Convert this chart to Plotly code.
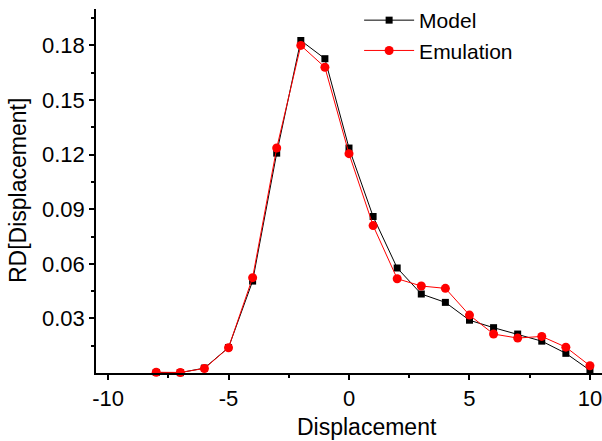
import plotly.graph_objects as go

displacement = [-8, -7, -6, -5, -4, -3, -2, -1, 0, 1, 2, 3, 4, 5, 6, 7, 8, 9, 10]
model = [0.0003, 0.0002, 0.0027, 0.0140, 0.0505, 0.1208, 0.1827, 0.1727, 0.1236,
         0.0860, 0.0577, 0.0434, 0.0388, 0.0290, 0.0249, 0.0214, 0.0175, 0.0108, 0.0015]
emulation = [0.0004, 0.0003, 0.0025, 0.0139, 0.0524, 0.1236, 0.1800, 0.1680, 0.1205,
             0.0810, 0.0518, 0.0478, 0.0465, 0.0318, 0.0214, 0.0192, 0.0201, 0.0142, 0.0040]
x_ticks = [-10, -5, 0, 5, 10]
x_minor = [-7.5, -2.5, 2.5, 7.5]
y_ticks = [0.03, 0.06, 0.09, 0.12, 0.15, 0.18]
y_tick_labels = ["0.03", "0.06", "0.09", "0.12", "0.15", "0.18"]
y_minor = [0.015, 0.045, 0.075, 0.105, 0.135, 0.165, 0.195]

FONT = "Liberation Sans, Arial, sans-serif"

fig = go.Figure()
fig.add_trace(go.Scatter(
    x=displacement, y=model, name="Model", mode="lines+markers",
    line=dict(color="black", width=1),
    marker=dict(symbol="square", size=7, color="black"),
    cliponaxis=False,
))
fig.add_trace(go.Scatter(
    x=displacement, y=emulation, name="Emulation", mode="lines+markers",
    line=dict(color="red", width=1),
    marker=dict(symbol="circle", size=9, color="red"),
    cliponaxis=False,
))

axis_common = dict(
    showgrid=False, zeroline=False, showline=True, linecolor="black", linewidth=1.5,
    ticks="outside", ticklen=5, tickwidth=1.5, tickcolor="black",
    tickfont=dict(family=FONT, size=22, color="black"),
    ticklabeloverflow="allow",
    mirror=False,
)

fig.update_layout(
    width=602, height=441,
    margin=dict(l=96, r=0, t=8, b=68),
    paper_bgcolor="white", plot_bgcolor="white",
    font=dict(family=FONT, size=22, color="black"),
    xaxis=dict(
        range=[-10.5, 10.5], tickvals=x_ticks,
        ticktext=[str(v) for v in x_ticks],
        minor=dict(tickvals=x_minor, ticks="outside", ticklen=3,
                   tickwidth=1.5, tickcolor="black"),
        **axis_common,
    ),
    yaxis=dict(
        range=[0, 0.2], tickvals=y_ticks, ticktext=y_tick_labels,
        minor=dict(tickvals=y_minor, ticks="outside", ticklen=3,
                   tickwidth=1.5, tickcolor="black"),
        **axis_common,
    ),
    legend=dict(
        x=0.52, y=1.025, xanchor="left", yanchor="top",
        bgcolor="rgba(0,0,0,0)", font=dict(family=FONT, size=21),
        itemwidth=50, tracegroupgap=0,
    ),
    annotations=[
        dict(
            text="Displacement", xref="paper", yref="paper", x=0.535, y=0,
            xanchor="center", yanchor="middle", yshift=-54, showarrow=False,
            font=dict(family=FONT, size=23, color="black"),
        ),
        dict(
            text="RD[Displacement]", xref="paper", yref="paper", x=0, y=0.5,
            xanchor="center", yanchor="middle", xshift=-78, textangle=-90,
            showarrow=False, font=dict(family=FONT, size=23, color="black"),
        ),
    ],
    showlegend=True,
)

fig.write_html("out.html")
